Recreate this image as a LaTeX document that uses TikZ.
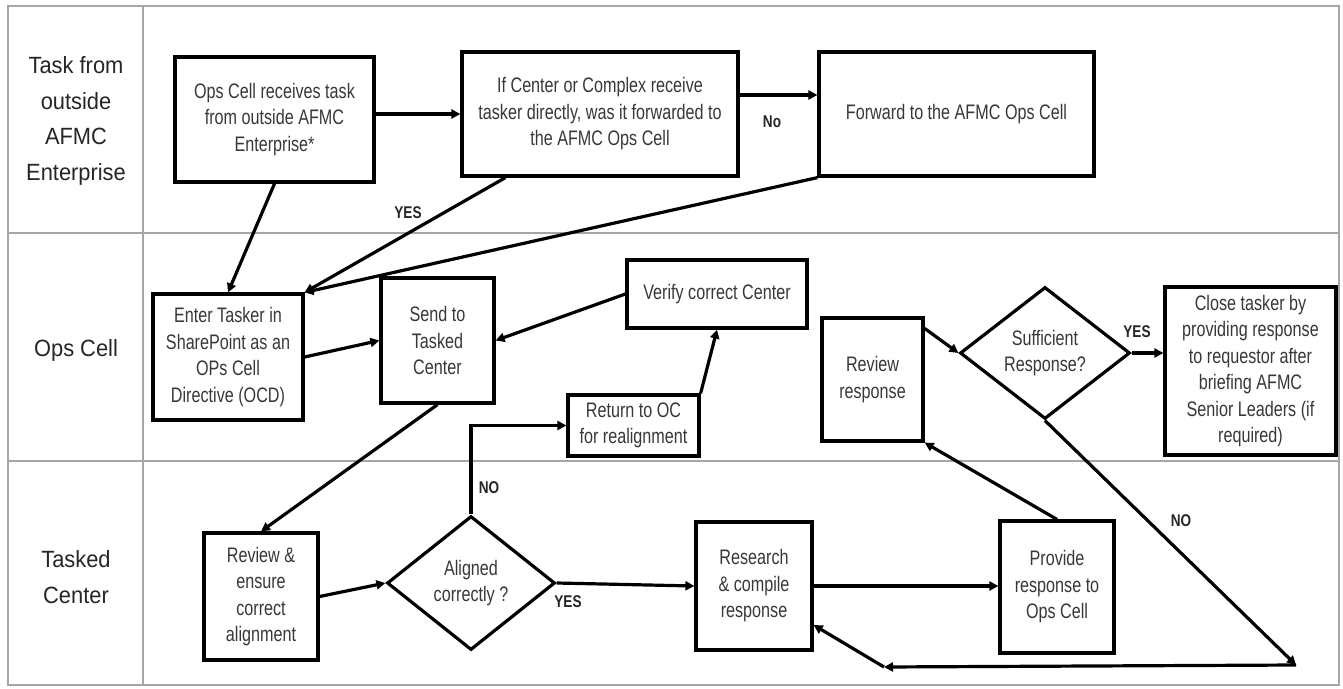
\documentclass[tikz,border=0pt]{standalone}
\usepackage{fontspec}
\setmainfont{Liberation Sans}[FakeStretch=0.77]
\newfontfamily\lanefont{Liberation Sans}[FakeStretch=0.93]
\newfontfamily\lblfont{Liberation Sans}[FakeStretch=0.8]
\usetikzlibrary{arrows.meta,shapes.geometric}
\begin{document}
\begin{tikzpicture}[x=1pt,y=-1pt,
  box/.style={draw=black, line width=3.2pt, inner sep=0pt, align=center,
    font=\fontsize{21}{26.5}\selectfont, text=black!78},
  dia/.style={box, shape=diamond},
  arr/.style={line width=3.2pt, draw=black, -{Triangle[length=9pt,width=9pt]}},
  lane/.style={draw=black!35, line width=1.8pt},
  lanelbl/.style={align=center, font=\lanefont\fontsize{23.5}{35.5}\selectfont, text=black!85},
  yn/.style={font=\lblfont\bfseries\fontsize{17}{18}\selectfont, text=black!85, inner sep=0pt}]
\useasboundingbox (0,0) rectangle (1343,688);
\fill[white] (0,0) rectangle (1343,688);
% swimlane frame
\draw[lane] (8,6) rectangle (1339,685);
\draw[lane] (143,6) -- (143,685);
\draw[lane] (8,233) -- (1339,233);
\draw[lane] (8,461) -- (1339,461);
\node[lanelbl] (l1) at (76,121) {Task from\\outside\\AFMC\\Enterprise};
\node[lanelbl] (l2) at (76,350) {Ops Cell};
\node[lanelbl] (l3) at (76,577) {Tasked\\Center};
% nodes
\node[box, minimum width=199pt, minimum height=125pt] (A) at (274.5,119.5) {Ops Cell receives task\\from outside AFMC\\Enterprise*};
\node[box, minimum width=276pt, minimum height=124pt] (B) at (600,114) {If Center or Complex receive\\tasker directly, was it forwarded to\\the AFMC Ops Cell};
\node[box, minimum width=275pt, minimum height=124pt] (C) at (956.5,114) {Forward to the AFMC Ops Cell};
\node[box, minimum width=150pt, minimum height=126pt] (D) at (228,357) {Enter Tasker in\\SharePoint as an\\OPs Cell\\Directive (OCD)};
\node[box, minimum width=113pt, minimum height=125pt] (E) at (437.5,340.5) {Send to\\Tasked\\Center};
\node[box, minimum width=180pt, minimum height=68pt] (F) at (717,294) {Verify correct Center};
\node[box, minimum width=131pt, minimum height=61pt] (G) at (633.5,425.5) {Return to OC\\for realignment};
\node[box, minimum width=101pt, minimum height=123pt] (H) at (872.5,379.5) {Review\\response};
\node[dia, minimum width=170pt, minimum height=132pt] (I) at (1045,353) {Sufficient\\Response?};
\node[box, minimum width=171pt, minimum height=168pt] (J) at (1250.5,371) {Close tasker by\\providing response\\to requestor after\\briefing AFMC\\Senior Leaders (if\\required)};
\node[box, minimum width=114pt, minimum height=127pt] (K) at (261,596.5) {Review \&\\ensure\\correct\\alignment};
\node[dia, minimum width=168pt, minimum height=134pt] (L) at (471,583) {Aligned\\correctly ?};
\node[box, minimum width=116pt, minimum height=128pt] (M) at (754,586) {Research\\\& compile\\response};
\node[box, minimum width=114pt, minimum height=132pt] (N) at (1057,587) {Provide\\response to\\Ops Cell};
\coordinate (c1) at (1296,665);
\coordinate (c2) at (884,667);
% connectors
\draw[arr] (B.west -| A.east) -- (B.west);
\draw[arr] ([yshift=19pt]B.east) -- ([yshift=19pt]B.east -| C.west);
\node[yn] (no1) at (772,122) {No};
\draw[arr] (A.south) -- (D.north);
\draw[arr] ([xshift=45pt]B.south west) -- (D.north east);
\node[yn] (yes1) at (408,213) {YES};
\draw[arr] (C.south west) -- (D.north east);
\draw[arr] (D.east) -- (E.west);
\draw[arr] (F.west) -- (E.east);
\draw[arr] (E.south) -- (K.north);
\draw[arr] (K.east) -- (L.west);
\draw[arr] (L.north) |- (G.west);
\node[yn] (no2) at (489,488) {NO};
\draw[arr] (G.north east) -- (F.south);
\draw[arr] (L.east) -- (M.west);
\node[yn] (yes2) at (568,602) {YES};
\draw[arr] (M.east) -- (M.east -| N.west);
\draw[arr] (N.north) -- (H.south east);
\draw[arr] ([yshift=-12pt]H.north east) -- (I.west);
\draw[arr] (I.east) -- (I.east -| J.west);
\node[yn] (yes3) at (1137,332) {YES};
\draw[arr] (I.south) -- (c1);
\node[yn] (no3) at (1181,521) {NO};
\draw[arr] (c1) -- (c2);
\draw[arr] (c2) -- ([yshift=-39pt]M.east);
\end{tikzpicture}
\end{document}
